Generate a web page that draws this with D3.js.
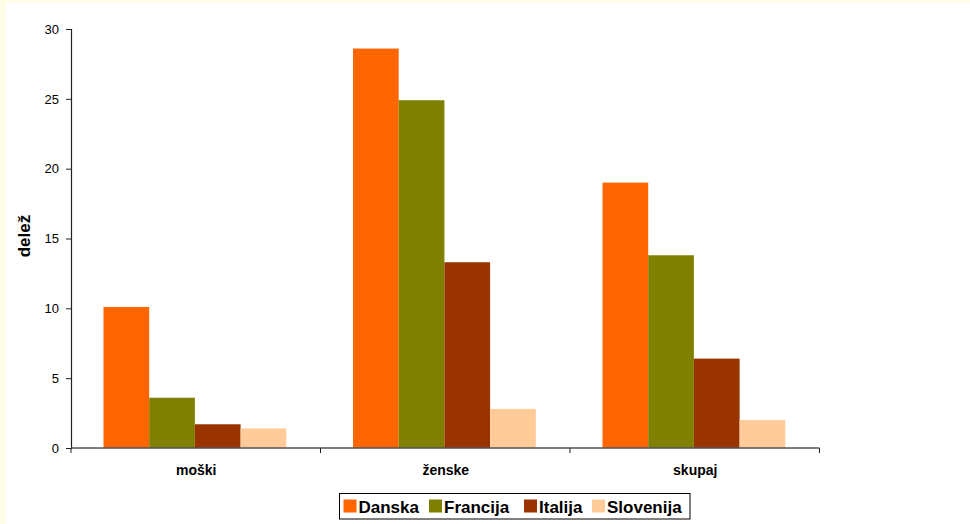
<!DOCTYPE html>
<html>
<head>
<meta charset="utf-8">
<script src="https://cdn.jsdelivr.net/npm/d3@7"></script>
<style>
  html, body { margin: 0; padding: 0; background: #FFFCE8; }
  svg { display: block; }
  text { font-family: "Liberation Sans", Arial, sans-serif; }
</style>
</head>
<body>
<script>
const categories = ["moški", "ženske", "skupaj"];
const seriesNames = ["Danska", "Francija", "Italija", "Slovenija"];
const danska = [10.1, 28.6, 19.0];
const francija = [3.6, 24.9, 13.8];
const italija = [1.7, 13.3, 6.4];
const slovenija = [1.4, 2.8, 2.0];
const yTicks = [0, 5, 10, 15, 20, 25, 30];
const colors = ["#FF6600", "#808000", "#993300", "#FFCC99"];
const yLabel = "delež";

const seriesValues = [danska, francija, italija, slovenija];

const W = 970, H = 524;
const svg = d3.select("body").append("svg").attr("width", W).attr("height", H);

svg.append("rect").attr("x", 0).attr("y", 0).attr("width", W).attr("height", H).attr("fill", "#FFFCE8");
svg.append("rect").attr("x", 6).attr("y", 3).attr("width", W - 6).attr("height", H - 3).attr("fill", "#FFFFFF");

const plot = { left: 71, right: 819.5, top: 29, bottom: 448 };

const x0 = d3.scaleBand().domain(categories).range([plot.left, plot.right]).paddingInner(0).paddingOuter(0);
const x1 = d3.scaleBand().domain(seriesNames).range([32.5, 32.5 + 182.8]).padding(0);
const y = d3.scaleLinear().domain([0, 30]).range([plot.bottom, plot.top]);

// bars
const groups = svg.append("g").selectAll("g")
  .data(categories)
  .join("g")
  .attr("transform", d => `translate(${x0(d)},0)`);

groups.selectAll("rect")
  .data((c, ci) => seriesNames.map((s, si) => ({ s, si, v: seriesValues[si][ci] })))
  .join("rect")
  .attr("x", d => x1(d.s))
  .attr("width", x1.bandwidth())
  .attr("y", d => y(d.v))
  .attr("height", d => y(0) - y(d.v))
  .attr("fill", d => colors[d.si]);

// y axis
const yAxis = d3.axisLeft(y).tickValues(yTicks).tickSize(5).tickPadding(7).tickFormat(d3.format("d"));
const gy = svg.append("g").attr("transform", `translate(${plot.left},0)`).call(yAxis);
gy.select(".domain").attr("stroke", "#222").attr("stroke-width", 1.2);
gy.selectAll(".tick line").attr("stroke", "#222");
gy.selectAll(".tick text").attr("font-size", 13).attr("fill", "#000").attr("font-family", "Liberation Sans, Arial, sans-serif");

// x axis
const gx = svg.append("g").attr("transform", `translate(0,${plot.bottom})`);
gx.append("line").attr("x1", plot.left).attr("x2", plot.right).attr("y1", 0).attr("y2", 0)
  .attr("stroke", "#555").attr("stroke-width", 1.5);
const boundaries = categories.map(c => x0(c)).concat([x0(categories[categories.length - 1]) + x0.bandwidth()]);
gx.selectAll("line.tk").data(boundaries).join("line").attr("class", "tk")
  .attr("x1", d => d).attr("x2", d => d).attr("y1", 0).attr("y2", 5)
  .attr("stroke", "#222");
gx.selectAll("text").data(categories).join("text")
  .attr("x", d => x0(d) + x0.bandwidth() / 2 + 0.5)
  .attr("y", 26.5)
  .attr("text-anchor", "middle")
  .attr("font-size", 14)
  .attr("font-weight", "bold")
  .attr("fill", "#000")
  .text(d => d);

// y label
svg.append("text")
  .attr("transform", `translate(29.5,236) rotate(-90)`)
  .attr("text-anchor", "middle")
  .attr("font-size", 17)
  .attr("font-weight", "bold")
  .attr("fill", "#000")
  .text(yLabel);

// legend
const lg = svg.append("g");
lg.append("rect").attr("x", 339.5).attr("y", 493.5).attr("width", 350.5).attr("height", 25.5)
  .attr("fill", "#fff").attr("stroke", "#000").attr("stroke-width", 1);
const legendX = [343.5, 429, 524, 592];
const items = lg.selectAll("g.item").data(seriesNames).join("g").attr("class", "item")
  .attr("transform", (d, i) => `translate(${legendX[i]},0)`);
items.append("rect").attr("x", 0).attr("y", 499.5).attr("width", 13).attr("height", 13)
  .attr("fill", (d, i) => colors[i]);
items.append("text").attr("x", 15).attr("y", 512.5)
  .attr("font-size", 17).attr("font-weight", "bold").attr("fill", "#000")
  .text(d => d);
</script>
</body>
</html>
